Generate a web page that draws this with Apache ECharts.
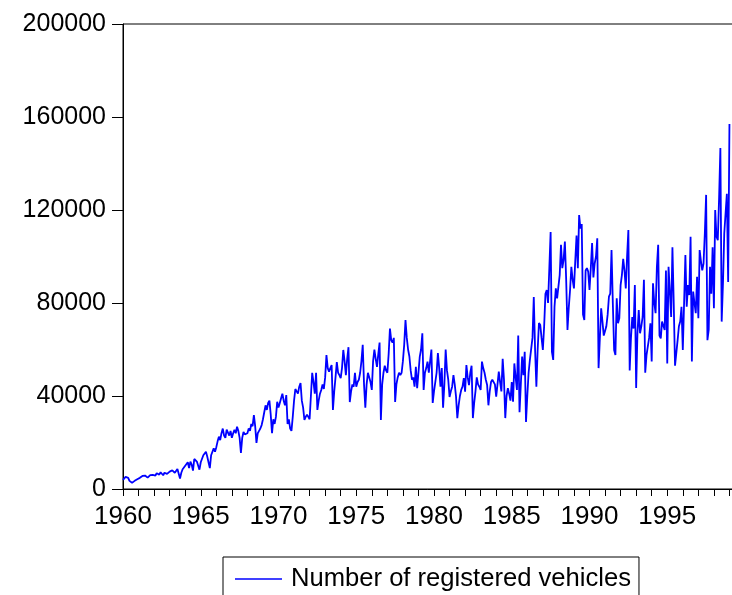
<!DOCTYPE html>
<html>
<head>
<meta charset="utf-8">
<script src="https://cdn.jsdelivr.net/npm/echarts@6/dist/echarts.min.js"></script>
<style>
  html, body { margin: 0; padding: 0; background: #fff; }
  #chart { width: 732px; height: 595px; }
</style>
</head>
<body>
<div id="chart"></div>
<script>
// Monthly registrations, January 1960 onward
const startYear = 1960;
const seriesName = 'Number of registered vehicles';
const yTicks = [0, 40000, 80000, 120000, 160000, 200000];
const xTickYears = [1960, 1965, 1970, 1975, 1980, 1985, 1990, 1995];

const reg1960s = [
  3900, 4500, 5200, 6000, 4800, 3500, 3000, 2700, 3100, 3500, 3900, 4200,
  4500, 4800, 5200, 5600, 5000, 5800, 5400, 4900, 5600, 6000, 5500, 6100,
  6300, 5800, 6800, 7000, 6200, 7200, 6600, 5900, 7000, 7400, 6500, 7000,
  7500, 6800, 8000, 8200, 7000, 7800, 8600, 8200, 4500, 7000, 8500, 8000,
  10000, 9200, 11500, 9000, 11800, 10500, 7900, 12900, 12200, 11800, 12500, 8300,
  11500, 13000, 14500, 15000, 16000, 14000, 13500, 9000, 14500, 15000, 17500, 16000,
  18000, 20500, 22500, 21000, 24000, 26000, 23000, 22000, 25500, 24700, 23000, 25000,
  22000, 24000, 25500, 24000, 26800, 25000, 22000, 15500, 22000, 24500, 23500, 24000,
  24000, 26000, 25000, 28000, 27000, 31800, 27000, 19800, 24000, 25000, 26000, 27500,
  30000, 33000, 36000, 34000, 37000, 38000, 32000, 24000, 30000, 28000, 31000, 37500
];
const reg1970s = [
  35000, 37000, 39000, 41000, 38000, 36000, 40400, 28000, 30000, 26000, 25000, 31000,
  38000, 43000, 42000, 41000, 44000, 45600, 38000, 35000, 29700, 31000, 32000, 31000,
  30000, 40000, 50000, 46000, 41000, 50000, 34000, 38000, 41000, 42600, 45000, 43000,
  48000, 57600, 52000, 50500, 52000, 53300, 34000, 42000, 48000, 54600, 50000, 49000,
  47700, 52000, 59800, 55000, 49000, 56000, 61000, 37400, 42000, 45000, 44000, 50000,
  44000, 46000, 47000, 50000, 55000, 62000, 45000, 35000, 45000, 50000, 50000, 46000,
  42600, 55000, 60000, 56000, 52500, 58000, 63000, 29700, 45000, 50000, 53000, 51000,
  50000, 58000, 69000, 64000, 63000, 65000, 37400, 45000, 48000, 50000, 49000, 50000,
  55000, 62000, 72700, 65000, 60000, 57000, 51000, 47000, 48000, 44000, 52600, 43400,
  50000, 56800, 60000, 67000, 42600, 50000, 52000, 54800, 50000, 55000, 60000, 37000
];
const reg1980s = [
  42000, 46000, 50000, 58500, 52000, 44000, 52000, 35000, 45000, 60000, 51000, 47000,
  39600, 42000, 44000, 49000, 45000, 39700, 30500, 36000, 40000, 42600, 44000, 47700,
  41900, 53300, 48000, 44700, 50000, 53000, 30500, 37000, 42000, 48000, 45000, 44000,
  42600, 54800, 52000, 50000, 47000, 44700, 36000, 42000, 46000, 47000, 47700, 45000,
  39700, 45000, 50500, 46000, 42000, 56000, 47000, 30500, 40000, 43400, 41000, 38000,
  46000, 37500, 54000, 48000, 42600, 66000, 33000, 45000, 57000, 49000, 59000, 28800,
  40000, 50000, 55500, 55500, 65000, 82600, 60000, 44000, 60000, 71400, 70500, 65000,
  59800, 70000, 84000, 85600, 80000, 95000, 110500, 59000, 55500, 78400, 86300, 82000,
  81300, 92000, 105000, 95000, 98500, 106400, 90000, 68400, 78000, 85600, 95600, 90000,
  86300, 98000, 109000, 95000, 117800, 112000, 114000, 75000, 72700, 94000, 95000, 93500
];
const reg1990s = [
  85600, 95000, 105800, 91000, 97000, 100000, 107800, 52000, 65000, 77700, 72000, 66000,
  68000, 70000, 75000, 82700, 84000, 102800, 80000, 59800, 57600, 82000, 71300, 73400,
  87700, 92000, 99000, 94000, 86300, 100000, 111400, 51000, 65000, 74000, 69000, 87700,
  43400, 67000, 77000, 67000, 70000, 74000, 90000, 50000, 57600, 57600, 65000, 71300,
  54800, 88500, 80000, 75600, 95600, 105000, 66000, 64800, 72000, 72700, 68400, 94000,
  54000, 95600, 85000, 74000, 104000, 80000, 53000, 52600, 64000, 70000, 72000, 78400,
  59800, 80000, 100600, 78400, 87700, 83400, 108500, 54800, 84900, 80000, 75600, 91300,
  73400, 102800, 98000, 94000, 97000, 110000, 126500, 64000, 68400, 95600, 84000, 104000,
  77700, 120000, 108500, 107000, 125000, 146700, 72000, 88500, 110000, 110700, 127000, 89000,
  157000
];

const values = [].concat(reg1960s, reg1970s, reg1980s, reg1990s);
// each observation sits at its month's position on a continuous year scale
const points = values.map((v, i) => [startYear + i / 12, v]);

const font = "'Liberation Sans', Arial, sans-serif";
const chart = echarts.init(document.getElementById('chart'), null, { renderer: 'canvas' });

chart.setOption({
  animation: false,
  backgroundColor: '#fff',
  grid: {
    left: 123, top: 24, width: 622, height: 465,
    outerBoundsMode: 'none',
    containLabel: false,
    show: true, borderColor: '#000', borderWidth: 1, backgroundColor: 'transparent'
  },
  xAxis: {
    type: 'value',
    min: xTickYears[0], max: 2000, interval: 5,
    axisLine: { show: true, onZero: false, lineStyle: { color: '#000', width: 1 } },
    axisTick: { show: true, length: 7, lineStyle: { color: '#000', width: 1 } },
    minorTick: { show: true, splitNumber: 5, length: 7, lineStyle: { color: '#000', width: 1 } },
    splitLine: { show: false },
    axisLabel: {
      color: '#000', fontSize: 26, fontFamily: font, margin: 15,
      showMaxLabel: false,
      formatter: v => (xTickYears.includes(v) ? String(v) : '')
    }
  },
  yAxis: {
    type: 'value',
    min: yTicks[0], max: yTicks[yTicks.length - 1], interval: 40000,
    axisLine: { show: true, lineStyle: { color: '#000', width: 1 } },
    axisTick: { show: true, length: 11, lineStyle: { color: '#000', width: 1 } },
    splitLine: { show: false },
    axisLabel: {
      color: '#000', fontSize: 25, fontFamily: font, margin: 17,
      formatter: v => String(v)
    }
  },
  legend: {
    left: 223, top: 557,
    padding: [9, 8, 12, 12],
    borderColor: '#000', borderWidth: 1,
    icon: 'rect',
    itemWidth: 47, itemHeight: 1.5,
    textStyle: { color: '#000', fontSize: 25.6, fontFamily: font, padding: [0, 0, 0, 4] },
    data: [seriesName]
  },
  series: [{
    name: seriesName,
    type: 'line',
    data: points,
    symbol: 'none',
    showSymbol: false,
    lineStyle: { color: '#0000ff', width: 1.8 },
    itemStyle: { color: '#0000ff' }
  }]
});
</script>
</body>
</html>
